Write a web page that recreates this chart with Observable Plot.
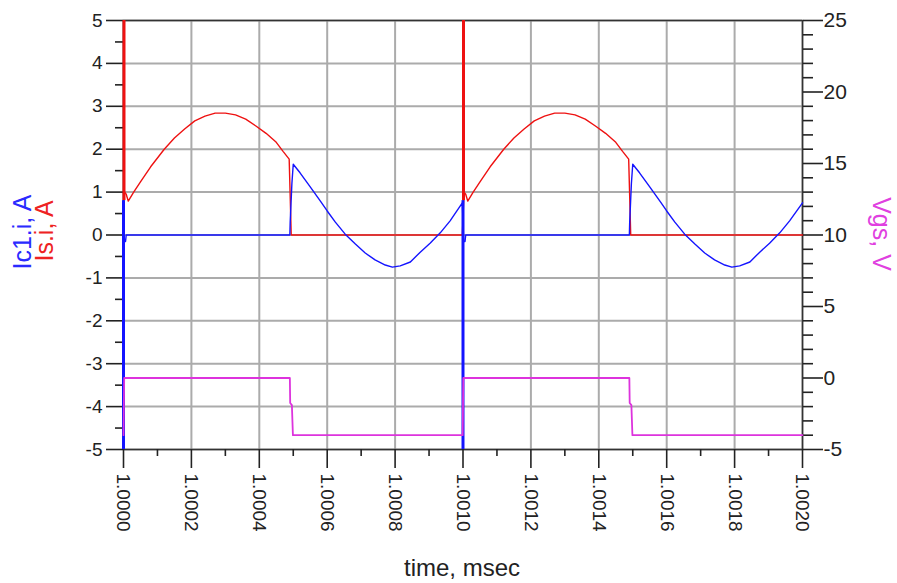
<!DOCTYPE html>
<html>
<head>
<meta charset="utf-8">
<script src="https://cdn.jsdelivr.net/npm/d3@7"></script>
<script src="https://cdn.jsdelivr.net/npm/@observablehq/plot@0.6"></script>
<style>
  html, body { margin: 0; padding: 0; background: #fff; }
  #chart svg { display: block; }
</style>
</head>
<body>
<div id="chart"></div>
<script>
// Axis ticks
const timeTicks = [1.0000, 1.0002, 1.0004, 1.0006, 1.0008, 1.0010, 1.0012, 1.0014, 1.0016, 1.0018, 1.0020];
const timeMinorTicks = [1.0001, 1.0003, 1.0005, 1.0007, 1.0009, 1.0011, 1.0013, 1.0015, 1.0017, 1.0019];
const ampTicks = [-5, -4, -3, -2, -1, 0, 1, 2, 3, 4, 5];
const ampMinorTicks = [-4.5, -3.5, -2.5, -1.5, -0.5, 0.5, 1.5, 2.5, 3.5, 4.5];
const vgsTicks = [-5, 0, 5, 10, 15, 20, 25];
const vgsMinorTicks = [-4, -3, -2, -1, 1, 2, 3, 4, 6, 7, 8, 9, 11, 12, 13, 14, 16, 17, 18, 19, 21, 22, 23, 24];

// Switch current Is.i (A) against time (msec)
const isTime = [
  1.000003, 1.000008, 1.000014, 1.00003, 1.00005, 1.00008, 1.00012, 1.00015, 1.00018, 1.00021,
  1.00024, 1.00027, 1.00030, 1.00033, 1.00036, 1.00039, 1.00042, 1.00045, 1.00047, 1.000488,
  1.000491, 1.000494, 1.000998,
  1.001003, 1.001008, 1.001014, 1.00103, 1.00105, 1.00108, 1.00112, 1.00115, 1.00118, 1.00121,
  1.00124, 1.00127, 1.00130, 1.00133, 1.00136, 1.00139, 1.00142, 1.00145, 1.00147, 1.001488,
  1.001491, 1.001494, 1.002
];
const isAmp = [
  1.0, 0.95, 0.79, 1.0, 1.24, 1.59, 2.0, 2.26, 2.47, 2.66,
  2.77, 2.84, 2.84, 2.80, 2.70, 2.54, 2.37, 2.16, 1.95, 1.77,
  0.9, 0, 0,
  1.0, 0.95, 0.79, 1.0, 1.24, 1.59, 2.0, 2.26, 2.47, 2.66,
  2.77, 2.84, 2.84, 2.80, 2.70, 2.54, 2.37, 2.16, 1.95, 1.77,
  0.9, 0, 0
];

// Capacitor current Ic1.i (A)
const ic1Time = [
  1.000002, 1.000006, 1.000008, 1.00049, 1.000491, 1.000496, 1.0005, 1.00052, 1.00055, 1.00058,
  1.0006, 1.000624, 1.000653, 1.000683, 1.000712, 1.000741, 1.000771, 1.000792, 1.000815, 1.000845,
  1.000874, 1.000903, 1.000933, 1.000962, 1.000998,
  1.001002, 1.001006, 1.001008, 1.00149, 1.001491, 1.001496, 1.0015, 1.00152, 1.00155, 1.00158,
  1.0016, 1.001624, 1.001653, 1.001683, 1.001712, 1.001741, 1.001771, 1.001792, 1.001815, 1.001845,
  1.001874, 1.001903, 1.001933, 1.001962, 1.002
];
const ic1Amp = [
  -0.15, -0.15, 0, 0, 0.3, 1.2, 1.65, 1.45, 1.12, 0.79,
  0.56, 0.30, 0.02, -0.21, -0.42, -0.58, -0.70, -0.75, -0.72, -0.63,
  -0.40, -0.19, 0.05, 0.33, 0.75,
  -0.15, -0.15, 0, 0, 0.3, 1.2, 1.65, 1.45, 1.12, 0.79,
  0.56, 0.30, 0.02, -0.21, -0.42, -0.58, -0.70, -0.75, -0.72, -0.63,
  -0.40, -0.19, 0.05, 0.33, 0.75
];

// Gate voltage Vgs (V), read on the right axis
const vgsTime = [
  1.0, 1.000002, 1.00049, 1.000491, 1.000496, 1.000499, 1.000999,
  1.001001, 1.00149, 1.001491, 1.001496, 1.001499, 1.002
];
const vgsVolt = [
  -4.0, 0, 0, -1.75, -1.9, -4.0, -4.0,
  0, 0, -1.75, -1.9, -4.0, -4.0
];

// Ringing edges at each switching instant
const edgeTime = [1.0000, 1.0010];
const isEdgeFrom = [0.8, 0.8];
const isEdgeTo = [5, 5];
const ic1EdgeFrom = [0.8, 0.8];
const ic1EdgeTo = [-5, -5];

// Volts on the right axis placed onto the left (amps) scale
const voltToAmp = v => (v - 10) / 3;
const ampToVolt = a => Math.round(a * 3 + 10);

const isData = isTime.map((t, i) => ({t, a: isAmp[i]}));
const ic1Data = ic1Time.map((t, i) => ({t, a: ic1Amp[i]}));
const vgsData = vgsTime.map((t, i) => ({t, a: voltToAmp(vgsVolt[i])}));
const edges = edgeTime.map((t, i) => ({t, r1: isEdgeFrom[i], r2: isEdgeTo[i], b1: ic1EdgeFrom[i], b2: ic1EdgeTo[i]}));

const RED = "#ee1111";
const BLUE = "#1414ff";
const MAGENTA = "#dd33dd";
const FONT = "'Liberation Sans', Arial, sans-serif";

const chart = Plot.plot({
  width: 897,
  height: 583,
  marginLeft: 123,
  marginRight: 95,
  marginTop: 20,
  marginBottom: 134,
  style: {background: "#fff", color: "#222", fontFamily: FONT, fontSize: "19px"},
  x: {type: "linear", domain: [1.0, 1.002]},
  y: {domain: [-5, 5]},
  marks: [
    Plot.gridY(ampTicks, {stroke: "#ababab", strokeOpacity: 1, strokeWidth: 2}),
    Plot.gridX(timeTicks, {stroke: "#ababab", strokeOpacity: 1, strokeWidth: 2}),
    Plot.frame({stroke: "#333", strokeWidth: 1.5}),
    Plot.axisY(ampTicks, {anchor: "left", tickSize: 17, tickPadding: 4, strokeWidth: 1.6, fontSize: 19, label: null, tickFormat: d => String(d)}),
    Plot.axisY(ampMinorTicks, {anchor: "left", tickSize: 8, strokeWidth: 1.6, label: null, tickFormat: () => ""}),
    Plot.axisY(vgsTicks.map(voltToAmp), {anchor: "right", tickSize: 20, tickPadding: 1, strokeWidth: 1.6, fontSize: 21, label: null, tickFormat: d => String(ampToVolt(d))}),
    Plot.axisY(vgsMinorTicks.map(voltToAmp), {anchor: "right", tickSize: 10, strokeWidth: 1.6, label: null, tickFormat: () => ""}),
    Plot.axisX(timeTicks, {anchor: "bottom", tickSize: 19, tickPadding: 5, tickRotate: 90, strokeWidth: 1.6, fontSize: 19, label: null, tickFormat: d3.format(".4f")}),
    Plot.axisX(timeMinorTicks, {anchor: "bottom", tickSize: 7, strokeWidth: 1.6, label: null, tickFormat: () => ""}),
    Plot.line(isData, {x: "t", y: "a", stroke: RED, strokeWidth: 1.4}),
    Plot.ruleX(edges, {x: "t", y1: "r1", y2: "r2", stroke: RED, strokeWidth: 3, dx: 0.5}),
    Plot.line(ic1Data, {x: "t", y: "a", stroke: BLUE, strokeWidth: 1.4}),
    Plot.ruleX(edges, {x: "t", y1: "b1", y2: "b2", stroke: BLUE, strokeWidth: 3}),
    Plot.line(vgsData, {x: "t", y: "a", stroke: MAGENTA, strokeWidth: 1.8})
  ]
});

document.getElementById("chart").appendChild(chart);

// Axis titles
const svg = d3.select(chart);
const title = (text, x, y, rotate, fill, size) =>
  svg.append("text")
    .attr("transform", `translate(${x},${y}) rotate(${rotate})`)
    .attr("text-anchor", "middle")
    .attr("font-family", FONT)
    .attr("font-size", size)
    .attr("fill", fill)
    .text(text);

title("time, msec", 462, 576, 0, "#222", 24);
title("Ic1.i, A", 31, 232, -90, "#2a2aff", 25);
title("Is.i, A", 53, 231, -90, "#ee2222", 25);
title("Vgs, V", 873, 234, 90, "#e040e0", 25);
</script>
</body>
</html>
